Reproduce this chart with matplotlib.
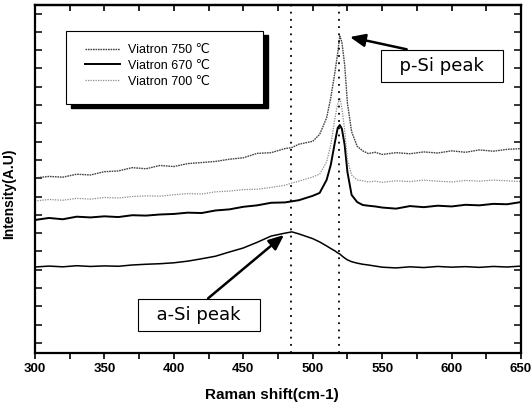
import matplotlib
matplotlib.use("Agg")
import matplotlib.pyplot as plt
from matplotlib.ticker import MultipleLocator, NullFormatter
from matplotlib.patches import Rectangle

# ---- data ----
raman_shift = [300, 310, 320, 330, 340, 350, 360, 370, 380, 390, 400, 410, 420, 430, 440, 450,
               460, 470, 480, 485, 490, 500, 505, 510, 513, 516, 518, 519.5, 521, 523, 525, 528,
               532, 536, 540, 545, 550, 560, 570, 580, 590, 600, 610, 620, 630, 640, 650]

viatron_750 = [9.02, 9.10, 9.06, 9.22, 9.18, 9.36, 9.40, 9.58, 9.52, 9.70, 9.64, 9.80, 9.86, 9.92,
               10.04, 10.12, 10.36, 10.40, 10.62, 10.68, 10.86, 11.02, 11.40, 12.30, 13.40, 14.80,
               15.85, 16.78, 16.45, 15.20, 13.10, 11.55, 10.75, 10.50, 10.35, 10.42, 10.30, 10.40,
               10.34, 10.44, 10.38, 10.50, 10.42, 10.55, 10.48, 10.58, 10.62]

viatron_670 = [6.72, 6.83, 6.76, 6.90, 6.86, 6.92, 6.88, 6.98, 6.96, 7.02, 7.05, 7.12, 7.10, 7.24,
               7.30, 7.44, 7.52, 7.66, 7.68, 7.74, 7.80, 8.04, 8.20, 8.91, 9.73, 10.98, 11.75, 11.91,
               11.70, 10.82, 9.34, 8.09, 7.70, 7.54, 7.50, 7.46, 7.40, 7.34, 7.48, 7.42, 7.50, 7.46,
               7.55, 7.52, 7.60, 7.58, 7.70]

viatron_700 = [7.76, 7.84, 7.80, 7.90, 7.86, 7.95, 7.92, 8.00, 8.04, 8.02, 8.10, 8.16, 8.14, 8.26,
               8.30, 8.38, 8.40, 8.50, 8.62, 8.74, 8.84, 9.07, 9.23, 9.89, 10.82, 12.30, 13.06, 13.39,
               12.84, 11.64, 10.00, 9.18, 8.91, 8.86, 8.80, 8.84, 8.78, 8.86, 8.82, 8.90, 8.84, 8.80,
               8.88, 8.84, 8.90, 8.86, 8.82]

amorphous = [4.15, 4.20, 4.16, 4.22, 4.18, 4.21, 4.19, 4.26, 4.30, 4.33, 4.38, 4.47, 4.60, 4.74,
             4.97, 5.19, 5.50, 5.84, 6.00, 6.07, 5.96, 5.70, 5.52, 5.30, 5.16, 5.03, 4.92, 4.86,
             4.76, 4.64, 4.54, 4.44, 4.36, 4.30, 4.26, 4.20, 4.14, 4.10, 4.16, 4.12, 4.18, 4.14,
             4.17, 4.13, 4.18, 4.15, 4.20]

legend_labels = ["Viatron 750 \u2103", "Viatron 670 \u2103", "Viatron 700 \u2103"]
peak_lines = [484, 519]
psi_peak = (526.8, 16.72)
asi_peak = (479.3, 5.90)

# ---- figure ----
fig = plt.figure(figsize=(5.31, 4.07), dpi=100)
ax = fig.add_axes([0.0659, 0.1327, 0.9153, 0.855])

l750, = ax.plot(raman_shift, viatron_750, color="#444444", lw=1.0, linestyle=(0, (1.2, 0.6)))
l670, = ax.plot(raman_shift, viatron_670, color="black", lw=1.4)
l700, = ax.plot(raman_shift, viatron_700, color="#8a8a8a", lw=0.9, linestyle=(0, (1, 1)))
ax.plot(raman_shift, amorphous, color="black", lw=1.1)

for xv in peak_lines:
    ax.axvline(xv, color="black", lw=1.3, linestyle=(0, (1, 3)))

ax.set_xlim(300, 650)
ax.set_ylim(-0.55, 18.47)

ax.xaxis.set_major_locator(MultipleLocator(50))
ax.xaxis.set_minor_locator(MultipleLocator(25))
ax.yaxis.set_major_locator(MultipleLocator(1))
ax.yaxis.set_major_formatter(NullFormatter())

for sp in ax.spines.values():
    sp.set_linewidth(1.6)

ax.tick_params(axis="x", which="both", direction="out", top=False, length=4, width=1.2,
               pad=3)
ax.tick_params(axis="y", which="both", direction="in", left=True, right=True, length=5, width=1.1)

sec = ax.secondary_xaxis("top")
sec.xaxis.set_major_locator(MultipleLocator(50))
sec.xaxis.set_minor_locator(MultipleLocator(25))
sec.tick_params(axis="x", which="both", direction="in", length=4, width=1.2, labeltop=False)
sec.spines["top"].set_linewidth(1.6)

for lab in ax.get_xticklabels():
    lab.set_fontfamily(["Liberation Sans", "DejaVu Sans"])
    lab.set_fontweight("bold")
    lab.set_fontsize(9.5)

ax.set_xlabel("Raman shift(cm-1)", fontfamily=["Liberation Sans", "DejaVu Sans"],
              fontweight="bold", fontsize=11)
ax.xaxis.set_label_coords(0.488, -0.10)
ax.set_ylabel("Intensity(A.U)", fontfamily=["Liberation Sans", "DejaVu Sans"],
              fontweight="bold", fontsize=10)
ax.yaxis.set_label_coords(-0.038, 0.458)

# legend frame with solid shadow
ax.add_patch(Rectangle((0.0638 + 0.0103, 0.7155 - 0.0115), 0.405, 0.2095, transform=ax.transAxes,
                       facecolor="black", edgecolor="black", zorder=4))
ax.add_patch(Rectangle((0.0638, 0.7155), 0.405, 0.2095, transform=ax.transAxes,
                       facecolor="white", edgecolor="black", lw=0.8, zorder=5))
leg = ax.legend([l750, l670, l700], legend_labels, loc="upper left",
                bbox_to_anchor=(0.103, 0.888), frameon=False, borderpad=0, borderaxespad=0,
                handlelength=2.8, handletextpad=0.6, labelspacing=0.3,
                prop={"family": ["Liberation Sans", "DejaVu Sans"], "size": 9})
leg.set_zorder(6)

box = dict(boxstyle="square,pad=0.4", fc="white", ec="black", lw=0.8)
arrow = dict(arrowstyle="-|>,head_length=0.7,head_width=0.3", color="black", lw=1.8,
             relpos=(0.5, 1.0), shrinkA=0, shrinkB=0)
ax.annotate("  p-Si peak  ", xy=psi_peak, xytext=(593, 15.14), ha="center", va="center",
            fontsize=13, fontfamily="DejaVu Sans", bbox=box, arrowprops=arrow, zorder=7)
ax.annotate("  a-Si peak  ", xy=asi_peak, xytext=(418.1, 1.53), ha="center", va="center",
            fontsize=13, fontfamily="DejaVu Sans", bbox=box, arrowprops=arrow, zorder=7)

fig.savefig("out.png", dpi=100)
